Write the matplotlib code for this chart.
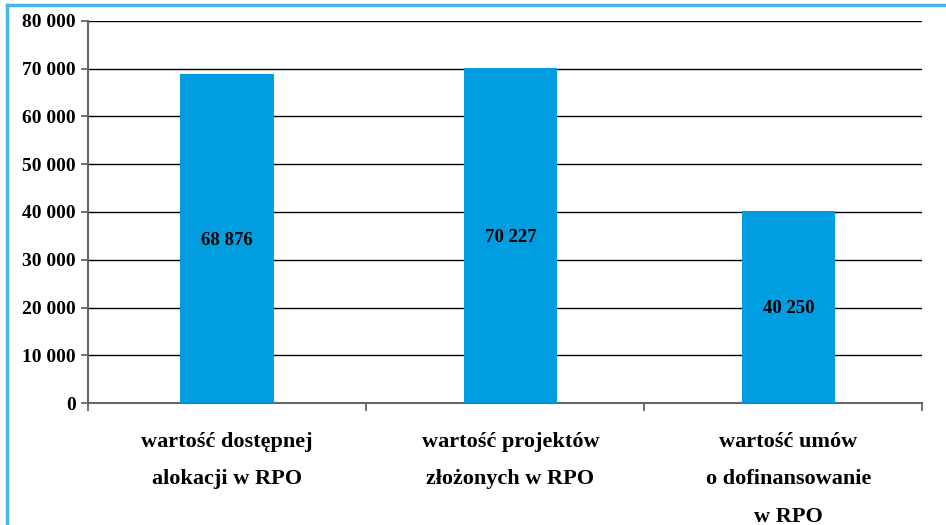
import numpy as np
import matplotlib.pyplot as plt
from matplotlib.lines import Line2D
from matplotlib.ticker import FuncFormatter

categories = ['wartość dostępnej\nalokacji w RPO',
              'wartość projektów\nzłożonych w RPO',
              'wartość umów\no dofinansowanie\nw RPO']
values = [68876, 70227, 40250]
value_labels = ['68 876', '70 227', '40 250']
y_ticks = np.arange(0, 80001, 10000)

plt.rcParams['font.family'] = ['Liberation Serif', 'DejaVu Serif']
plt.rcParams['font.weight'] = 'bold'

fig = plt.figure(figsize=(9.46, 5.25), dpi=100)
ax = fig.add_axes([88/946, 1 - 403/525, (922 - 88)/946, (403 - 21)/525])

# the original bars sit slightly right of the category centres
x = np.arange(len(categories)) + np.array([0.0, 0.02, 0.02])
bars = ax.bar(x, values, width=0.335, color='#009EE0', zorder=3)

for b, lab in zip(bars, value_labels):
    ax.text(b.get_x() + b.get_width()/2, b.get_height()/2, lab,
            ha='center', va='center_baseline', fontsize=13.5, fontweight='bold', zorder=4)

ax.set_xlim(-0.5, 2.5)
ax.set_ylim(0, 80000)
ax.set_yticks(y_ticks)
ax.yaxis.set_major_formatter(FuncFormatter(lambda v, p: f'{int(v):,}'.replace(',', ' ')))
ax.yaxis.grid(True, color='black', linewidth=1.0, zorder=0)
ax.set_axisbelow(True)

ax.set_xticks(x)
ax.set_xticklabels(categories, fontsize=16, fontweight='bold', linespacing=2.15)
ax.set_xticks([-0.5, 0.5, 1.5, 2.5], minor=True)
ax.tick_params(axis='x', which='major', length=0, pad=21)
ax.tick_params(axis='x', which='minor', length=6, width=1.3, color='#666666', direction='out')
ax.tick_params(axis='y', length=5, width=1.3, color='#666666', labelsize=14, pad=4)

for s in ['top', 'right']:
    ax.spines[s].set_visible(False)
for s in ['left', 'bottom']:
    ax.spines[s].set_color('#666666')
    ax.spines[s].set_linewidth(1.5)

# light blue frame (top and left edges visible)
fx = 7/946
fy = 1 - 5/525
fig.add_artist(Line2D([fx, fx], [0, fy], transform=fig.transFigure, color='#45B8EA', linewidth=2.5))
fig.add_artist(Line2D([fx, 1], [fy, fy], transform=fig.transFigure, color='#45B8EA', linewidth=2.5))

fig.savefig('out.png', dpi=100)
